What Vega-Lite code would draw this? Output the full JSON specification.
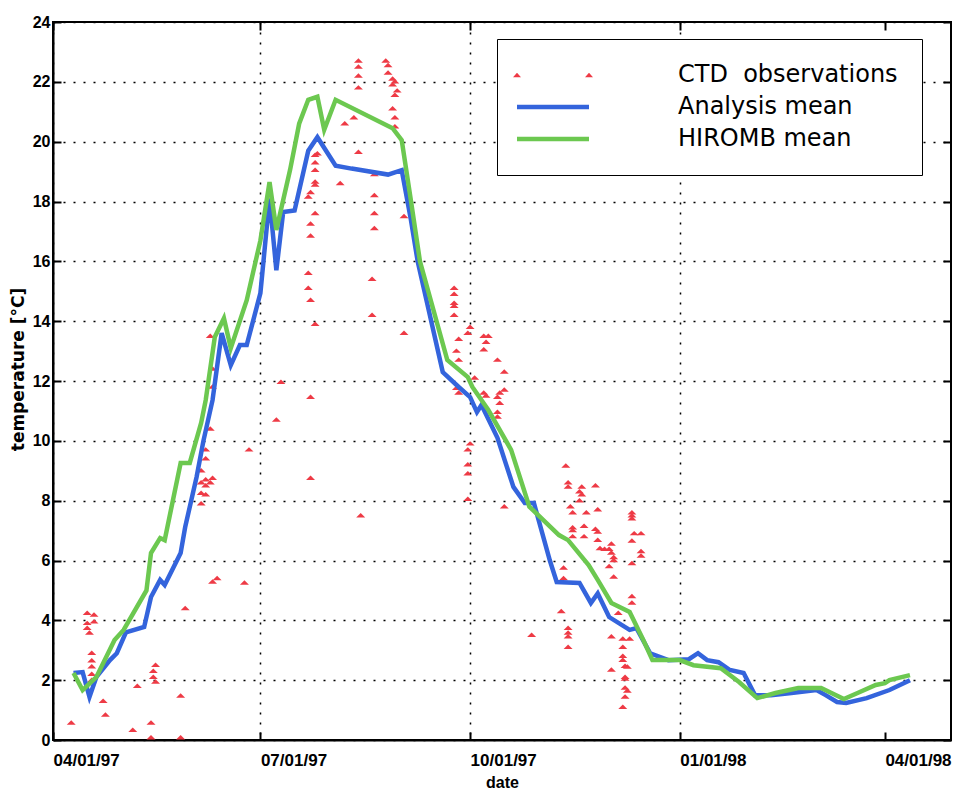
{
  "$schema": "https://vega.github.io/schema/vega-lite/v6.json",
  "width": 898,
  "height": 718,
  "autosize": {"type": "none"},
  "padding": {"left": 53, "top": 22, "right": 5, "bottom": 50},
  "background": "white",
  "config": {
    "view": {"stroke": "black", "strokeWidth": 2},
    "axis": {"labelColor": "black", "titleColor": "black", "tickColor": "black", "domainColor": "black"}
  },
  "datasets": {
    "keys": [
      {"series": "CTD observations"},
      {"series": "Analysis mean"},
      {"series": "HIROMB mean"}
    ],
    "ctd": [
      {"date": "1997-04-09", "temp": 0.57, "series": "CTD observations"},
      {"date": "1997-04-16", "temp": 4.24, "series": "CTD observations"},
      {"date": "1997-04-19", "temp": 4.18, "series": "CTD observations"},
      {"date": "1997-04-16", "temp": 3.9, "series": "CTD observations"},
      {"date": "1997-04-19", "temp": 3.95, "series": "CTD observations"},
      {"date": "1997-04-16", "temp": 3.74, "series": "CTD observations"},
      {"date": "1997-04-17", "temp": 3.58, "series": "CTD observations"},
      {"date": "1997-04-18", "temp": 2.9, "series": "CTD observations"},
      {"date": "1997-04-18", "temp": 2.65, "series": "CTD observations"},
      {"date": "1997-04-18", "temp": 2.45, "series": "CTD observations"},
      {"date": "1997-04-18", "temp": 2.2, "series": "CTD observations"},
      {"date": "1997-04-18", "temp": 2.0, "series": "CTD observations"},
      {"date": "1997-04-23", "temp": 1.3, "series": "CTD observations"},
      {"date": "1997-04-24", "temp": 0.84, "series": "CTD observations"},
      {"date": "1997-05-06", "temp": 0.33, "series": "CTD observations"},
      {"date": "1997-05-08", "temp": 1.8, "series": "CTD observations"},
      {"date": "1997-05-14", "temp": 0.57, "series": "CTD observations"},
      {"date": "1997-05-14", "temp": 0.08, "series": "CTD observations"},
      {"date": "1997-05-16", "temp": 2.5, "series": "CTD observations"},
      {"date": "1997-05-15", "temp": 2.3, "series": "CTD observations"},
      {"date": "1997-05-15", "temp": 2.1, "series": "CTD observations"},
      {"date": "1997-05-16", "temp": 1.94, "series": "CTD observations"},
      {"date": "1997-05-27", "temp": 1.47, "series": "CTD observations"},
      {"date": "1997-05-27", "temp": 0.08, "series": "CTD observations"},
      {"date": "1997-05-29", "temp": 4.4, "series": "CTD observations"},
      {"date": "1997-06-10", "temp": 5.28, "series": "CTD observations"},
      {"date": "1997-06-12", "temp": 5.4, "series": "CTD observations"},
      {"date": "1997-06-24", "temp": 5.25, "series": "CTD observations"},
      {"date": "1997-06-09", "temp": 10.4, "series": "CTD observations"},
      {"date": "1997-06-07", "temp": 9.7, "series": "CTD observations"},
      {"date": "1997-06-07", "temp": 9.4, "series": "CTD observations"},
      {"date": "1997-06-05", "temp": 9.0, "series": "CTD observations"},
      {"date": "1997-06-07", "temp": 8.7, "series": "CTD observations"},
      {"date": "1997-06-09", "temp": 8.6, "series": "CTD observations"},
      {"date": "1997-06-05", "temp": 8.6, "series": "CTD observations"},
      {"date": "1997-06-07", "temp": 8.5, "series": "CTD observations"},
      {"date": "1997-06-10", "temp": 8.75, "series": "CTD observations"},
      {"date": "1997-06-05", "temp": 8.25, "series": "CTD observations"},
      {"date": "1997-06-07", "temp": 8.2, "series": "CTD observations"},
      {"date": "1997-06-05", "temp": 7.9, "series": "CTD observations"},
      {"date": "1997-06-26", "temp": 9.7, "series": "CTD observations"},
      {"date": "1997-06-09", "temp": 13.5, "series": "CTD observations"},
      {"date": "1997-06-10", "temp": 12.4, "series": "CTD observations"},
      {"date": "1997-06-10", "temp": 11.8, "series": "CTD observations"},
      {"date": "1997-07-10", "temp": 11.96, "series": "CTD observations"},
      {"date": "1997-07-08", "temp": 10.7, "series": "CTD observations"},
      {"date": "1997-07-23", "temp": 11.46, "series": "CTD observations"},
      {"date": "1997-07-23", "temp": 8.75, "series": "CTD observations"},
      {"date": "1997-07-25", "temp": 19.55, "series": "CTD observations"},
      {"date": "1997-07-26", "temp": 19.6, "series": "CTD observations"},
      {"date": "1997-07-25", "temp": 19.3, "series": "CTD observations"},
      {"date": "1997-07-25", "temp": 19.05, "series": "CTD observations"},
      {"date": "1997-07-25", "temp": 18.65, "series": "CTD observations"},
      {"date": "1997-07-25", "temp": 18.55, "series": "CTD observations"},
      {"date": "1997-07-23", "temp": 18.3, "series": "CTD observations"},
      {"date": "1997-07-22", "temp": 18.15, "series": "CTD observations"},
      {"date": "1997-07-25", "temp": 17.6, "series": "CTD observations"},
      {"date": "1997-07-23", "temp": 17.25, "series": "CTD observations"},
      {"date": "1997-07-23", "temp": 16.85, "series": "CTD observations"},
      {"date": "1997-07-22", "temp": 15.6, "series": "CTD observations"},
      {"date": "1997-07-22", "temp": 15.1, "series": "CTD observations"},
      {"date": "1997-07-23", "temp": 14.7, "series": "CTD observations"},
      {"date": "1997-07-25", "temp": 13.9, "series": "CTD observations"},
      {"date": "1997-08-07", "temp": 20.6, "series": "CTD observations"},
      {"date": "1997-08-05", "temp": 18.6, "series": "CTD observations"},
      {"date": "1997-08-13", "temp": 22.7, "series": "CTD observations"},
      {"date": "1997-08-13", "temp": 22.5, "series": "CTD observations"},
      {"date": "1997-08-13", "temp": 22.2, "series": "CTD observations"},
      {"date": "1997-08-13", "temp": 21.8, "series": "CTD observations"},
      {"date": "1997-08-25", "temp": 22.7, "series": "CTD observations"},
      {"date": "1997-08-26", "temp": 22.55, "series": "CTD observations"},
      {"date": "1997-08-26", "temp": 22.3, "series": "CTD observations"},
      {"date": "1997-08-28", "temp": 22.1, "series": "CTD observations"},
      {"date": "1997-08-29", "temp": 22.0, "series": "CTD observations"},
      {"date": "1997-08-28", "temp": 21.9, "series": "CTD observations"},
      {"date": "1997-08-30", "temp": 21.7, "series": "CTD observations"},
      {"date": "1997-08-29", "temp": 21.55, "series": "CTD observations"},
      {"date": "1997-08-11", "temp": 20.8, "series": "CTD observations"},
      {"date": "1997-08-28", "temp": 21.1, "series": "CTD observations"},
      {"date": "1997-08-29", "temp": 20.8, "series": "CTD observations"},
      {"date": "1997-08-29", "temp": 20.5, "series": "CTD observations"},
      {"date": "1997-08-13", "temp": 19.65, "series": "CTD observations"},
      {"date": "1997-08-20", "temp": 18.9, "series": "CTD observations"},
      {"date": "1997-08-20", "temp": 18.2, "series": "CTD observations"},
      {"date": "1997-08-20", "temp": 17.6, "series": "CTD observations"},
      {"date": "1997-08-20", "temp": 17.1, "series": "CTD observations"},
      {"date": "1997-09-02", "temp": 17.5, "series": "CTD observations"},
      {"date": "1997-08-19", "temp": 15.4, "series": "CTD observations"},
      {"date": "1997-08-19", "temp": 14.2, "series": "CTD observations"},
      {"date": "1997-09-02", "temp": 13.6, "series": "CTD observations"},
      {"date": "1997-08-14", "temp": 7.5, "series": "CTD observations"},
      {"date": "1997-09-24", "temp": 15.1, "series": "CTD observations"},
      {"date": "1997-09-24", "temp": 14.9, "series": "CTD observations"},
      {"date": "1997-09-24", "temp": 14.6, "series": "CTD observations"},
      {"date": "1997-09-24", "temp": 14.5, "series": "CTD observations"},
      {"date": "1997-09-24", "temp": 14.2, "series": "CTD observations"},
      {"date": "1997-10-01", "temp": 13.8, "series": "CTD observations"},
      {"date": "1997-09-30", "temp": 13.6, "series": "CTD observations"},
      {"date": "1997-10-07", "temp": 13.5, "series": "CTD observations"},
      {"date": "1997-10-09", "temp": 13.5, "series": "CTD observations"},
      {"date": "1997-10-08", "temp": 13.3, "series": "CTD observations"},
      {"date": "1997-10-07", "temp": 13.05, "series": "CTD observations"},
      {"date": "1997-09-26", "temp": 13.4, "series": "CTD observations"},
      {"date": "1997-09-25", "temp": 13.0, "series": "CTD observations"},
      {"date": "1997-10-13", "temp": 12.7, "series": "CTD observations"},
      {"date": "1997-09-26", "temp": 12.7, "series": "CTD observations"},
      {"date": "1997-10-16", "temp": 12.3, "series": "CTD observations"},
      {"date": "1997-10-03", "temp": 12.1, "series": "CTD observations"},
      {"date": "1997-09-25", "temp": 11.76, "series": "CTD observations"},
      {"date": "1997-09-26", "temp": 11.6, "series": "CTD observations"},
      {"date": "1997-10-07", "temp": 11.6, "series": "CTD observations"},
      {"date": "1997-10-08", "temp": 11.5, "series": "CTD observations"},
      {"date": "1997-10-14", "temp": 11.6, "series": "CTD observations"},
      {"date": "1997-10-16", "temp": 11.7, "series": "CTD observations"},
      {"date": "1997-10-13", "temp": 11.46, "series": "CTD observations"},
      {"date": "1997-10-14", "temp": 11.26, "series": "CTD observations"},
      {"date": "1997-10-13", "temp": 10.96, "series": "CTD observations"},
      {"date": "1997-10-13", "temp": 10.8, "series": "CTD observations"},
      {"date": "1997-10-01", "temp": 9.9, "series": "CTD observations"},
      {"date": "1997-09-30", "temp": 9.7, "series": "CTD observations"},
      {"date": "1997-09-30", "temp": 9.2, "series": "CTD observations"},
      {"date": "1997-09-30", "temp": 8.9, "series": "CTD observations"},
      {"date": "1997-09-30", "temp": 8.05, "series": "CTD observations"},
      {"date": "1997-10-16", "temp": 7.8, "series": "CTD observations"},
      {"date": "1997-11-12", "temp": 9.16, "series": "CTD observations"},
      {"date": "1997-11-13", "temp": 8.6, "series": "CTD observations"},
      {"date": "1997-11-13", "temp": 8.46, "series": "CTD observations"},
      {"date": "1997-11-19", "temp": 8.46, "series": "CTD observations"},
      {"date": "1997-11-18", "temp": 8.3, "series": "CTD observations"},
      {"date": "1997-11-19", "temp": 8.2, "series": "CTD observations"},
      {"date": "1997-11-18", "temp": 8.0, "series": "CTD observations"},
      {"date": "1997-11-25", "temp": 8.5, "series": "CTD observations"},
      {"date": "1997-11-14", "temp": 7.8, "series": "CTD observations"},
      {"date": "1997-11-15", "temp": 7.6, "series": "CTD observations"},
      {"date": "1997-11-21", "temp": 7.6, "series": "CTD observations"},
      {"date": "1997-11-26", "temp": 7.7, "series": "CTD observations"},
      {"date": "1997-11-15", "temp": 7.1, "series": "CTD observations"},
      {"date": "1997-11-15", "temp": 7.0, "series": "CTD observations"},
      {"date": "1997-11-20", "temp": 7.15, "series": "CTD observations"},
      {"date": "1997-11-25", "temp": 7.05, "series": "CTD observations"},
      {"date": "1997-11-26", "temp": 6.95, "series": "CTD observations"},
      {"date": "1997-11-15", "temp": 6.8, "series": "CTD observations"},
      {"date": "1997-11-20", "temp": 6.8, "series": "CTD observations"},
      {"date": "1997-11-26", "temp": 6.68, "series": "CTD observations"},
      {"date": "1997-12-02", "temp": 6.55, "series": "CTD observations"},
      {"date": "1997-11-27", "temp": 6.4, "series": "CTD observations"},
      {"date": "1997-11-29", "temp": 6.38, "series": "CTD observations"},
      {"date": "1997-12-01", "temp": 6.38, "series": "CTD observations"},
      {"date": "1997-12-02", "temp": 6.25, "series": "CTD observations"},
      {"date": "1997-12-03", "temp": 6.1, "series": "CTD observations"},
      {"date": "1997-12-03", "temp": 6.0, "series": "CTD observations"},
      {"date": "1997-12-11", "temp": 7.6, "series": "CTD observations"},
      {"date": "1997-12-11", "temp": 7.5, "series": "CTD observations"},
      {"date": "1997-12-11", "temp": 7.4, "series": "CTD observations"},
      {"date": "1997-12-12", "temp": 6.9, "series": "CTD observations"},
      {"date": "1997-12-15", "temp": 6.9, "series": "CTD observations"},
      {"date": "1997-12-11", "temp": 6.65, "series": "CTD observations"},
      {"date": "1997-12-15", "temp": 6.3, "series": "CTD observations"},
      {"date": "1997-12-15", "temp": 6.15, "series": "CTD observations"},
      {"date": "1997-12-11", "temp": 5.9, "series": "CTD observations"},
      {"date": "1997-12-01", "temp": 5.8, "series": "CTD observations"},
      {"date": "1997-12-03", "temp": 5.45, "series": "CTD observations"},
      {"date": "1997-11-11", "temp": 5.75, "series": "CTD observations"},
      {"date": "1997-11-11", "temp": 5.4, "series": "CTD observations"},
      {"date": "1997-11-10", "temp": 4.3, "series": "CTD observations"},
      {"date": "1997-10-28", "temp": 3.5, "series": "CTD observations"},
      {"date": "1997-11-13", "temp": 3.74, "series": "CTD observations"},
      {"date": "1997-11-13", "temp": 3.58, "series": "CTD observations"},
      {"date": "1997-11-13", "temp": 3.45, "series": "CTD observations"},
      {"date": "1997-11-13", "temp": 3.1, "series": "CTD observations"},
      {"date": "1997-12-11", "temp": 4.8, "series": "CTD observations"},
      {"date": "1997-12-11", "temp": 4.58, "series": "CTD observations"},
      {"date": "1997-12-05", "temp": 4.24, "series": "CTD observations"},
      {"date": "1997-12-02", "temp": 3.45, "series": "CTD observations"},
      {"date": "1997-12-07", "temp": 3.38, "series": "CTD observations"},
      {"date": "1997-12-10", "temp": 3.38, "series": "CTD observations"},
      {"date": "1997-12-07", "temp": 3.1, "series": "CTD observations"},
      {"date": "1997-12-07", "temp": 2.8, "series": "CTD observations"},
      {"date": "1997-12-07", "temp": 2.67, "series": "CTD observations"},
      {"date": "1997-12-08", "temp": 2.47, "series": "CTD observations"},
      {"date": "1997-12-09", "temp": 2.44, "series": "CTD observations"},
      {"date": "1997-12-02", "temp": 2.34, "series": "CTD observations"},
      {"date": "1997-12-08", "temp": 2.1, "series": "CTD observations"},
      {"date": "1997-12-08", "temp": 2.04, "series": "CTD observations"},
      {"date": "1997-12-08", "temp": 1.74, "series": "CTD observations"},
      {"date": "1997-12-09", "temp": 1.64, "series": "CTD observations"},
      {"date": "1997-12-08", "temp": 1.44, "series": "CTD observations"},
      {"date": "1997-12-07", "temp": 1.1, "series": "CTD observations"}
    ],
    "means": [
      {"date": "1997-04-10", "temp": 2.24, "series": "Analysis mean"},
      {"date": "1997-04-14", "temp": 2.27, "series": "Analysis mean"},
      {"date": "1997-04-17", "temp": 1.44, "series": "Analysis mean"},
      {"date": "1997-04-20", "temp": 2.1, "series": "Analysis mean"},
      {"date": "1997-04-26", "temp": 2.67, "series": "Analysis mean"},
      {"date": "1997-04-29", "temp": 2.9, "series": "Analysis mean"},
      {"date": "1997-05-03", "temp": 3.6, "series": "Analysis mean"},
      {"date": "1997-05-11", "temp": 3.78, "series": "Analysis mean"},
      {"date": "1997-05-14", "temp": 4.78, "series": "Analysis mean"},
      {"date": "1997-05-18", "temp": 5.35, "series": "Analysis mean"},
      {"date": "1997-05-20", "temp": 5.18, "series": "Analysis mean"},
      {"date": "1997-05-27", "temp": 6.25, "series": "Analysis mean"},
      {"date": "1997-05-29", "temp": 7.12, "series": "Analysis mean"},
      {"date": "1997-06-03", "temp": 8.79, "series": "Analysis mean"},
      {"date": "1997-06-06", "temp": 10.0, "series": "Analysis mean"},
      {"date": "1997-06-10", "temp": 11.36, "series": "Analysis mean"},
      {"date": "1997-06-14", "temp": 13.6, "series": "Analysis mean"},
      {"date": "1997-06-18", "temp": 12.53, "series": "Analysis mean"},
      {"date": "1997-06-22", "temp": 13.2, "series": "Analysis mean"},
      {"date": "1997-06-25", "temp": 13.2, "series": "Analysis mean"},
      {"date": "1997-07-01", "temp": 14.94, "series": "Analysis mean"},
      {"date": "1997-07-05", "temp": 18.1, "series": "Analysis mean"},
      {"date": "1997-07-08", "temp": 15.7, "series": "Analysis mean"},
      {"date": "1997-07-11", "temp": 17.65, "series": "Analysis mean"},
      {"date": "1997-07-16", "temp": 17.7, "series": "Analysis mean"},
      {"date": "1997-07-22", "temp": 19.7, "series": "Analysis mean"},
      {"date": "1997-07-26", "temp": 20.15, "series": "Analysis mean"},
      {"date": "1997-08-03", "temp": 19.2, "series": "Analysis mean"},
      {"date": "1997-08-10", "temp": 19.1, "series": "Analysis mean"},
      {"date": "1997-08-26", "temp": 18.9, "series": "Analysis mean"},
      {"date": "1997-09-01", "temp": 19.05, "series": "Analysis mean"},
      {"date": "1997-09-05", "temp": 17.4, "series": "Analysis mean"},
      {"date": "1997-09-08", "temp": 16.0, "series": "Analysis mean"},
      {"date": "1997-09-19", "temp": 12.3, "series": "Analysis mean"},
      {"date": "1997-09-26", "temp": 11.8, "series": "Analysis mean"},
      {"date": "1997-10-01", "temp": 11.46, "series": "Analysis mean"},
      {"date": "1997-10-04", "temp": 10.96, "series": "Analysis mean"},
      {"date": "1997-10-06", "temp": 11.2, "series": "Analysis mean"},
      {"date": "1997-10-13", "temp": 10.1, "series": "Analysis mean"},
      {"date": "1997-10-20", "temp": 8.46, "series": "Analysis mean"},
      {"date": "1997-10-25", "temp": 7.92, "series": "Analysis mean"},
      {"date": "1997-10-29", "temp": 7.92, "series": "Analysis mean"},
      {"date": "1997-11-05", "temp": 6.0, "series": "Analysis mean"},
      {"date": "1997-11-08", "temp": 5.28, "series": "Analysis mean"},
      {"date": "1997-11-18", "temp": 5.25, "series": "Analysis mean"},
      {"date": "1997-11-23", "temp": 4.58, "series": "Analysis mean"},
      {"date": "1997-11-26", "temp": 4.9, "series": "Analysis mean"},
      {"date": "1997-12-01", "temp": 4.11, "series": "Analysis mean"},
      {"date": "1997-12-10", "temp": 3.68, "series": "Analysis mean"},
      {"date": "1997-12-13", "temp": 3.74, "series": "Analysis mean"},
      {"date": "1997-12-19", "temp": 2.9, "series": "Analysis mean"},
      {"date": "1997-12-27", "temp": 2.67, "series": "Analysis mean"},
      {"date": "1998-01-05", "temp": 2.7, "series": "Analysis mean"},
      {"date": "1998-01-09", "temp": 2.9, "series": "Analysis mean"},
      {"date": "1998-01-13", "temp": 2.67, "series": "Analysis mean"},
      {"date": "1998-01-18", "temp": 2.6, "series": "Analysis mean"},
      {"date": "1998-01-23", "temp": 2.34, "series": "Analysis mean"},
      {"date": "1998-01-29", "temp": 2.24, "series": "Analysis mean"},
      {"date": "1998-02-03", "temp": 1.5, "series": "Analysis mean"},
      {"date": "1998-02-10", "temp": 1.5, "series": "Analysis mean"},
      {"date": "1998-02-19", "temp": 1.57, "series": "Analysis mean"},
      {"date": "1998-03-02", "temp": 1.67, "series": "Analysis mean"},
      {"date": "1998-03-06", "temp": 1.5, "series": "Analysis mean"},
      {"date": "1998-03-11", "temp": 1.27, "series": "Analysis mean"},
      {"date": "1998-03-15", "temp": 1.24, "series": "Analysis mean"},
      {"date": "1998-03-24", "temp": 1.4, "series": "Analysis mean"},
      {"date": "1998-04-03", "temp": 1.67, "series": "Analysis mean"},
      {"date": "1998-04-12", "temp": 2.0, "series": "Analysis mean"},
      {"date": "1997-04-10", "temp": 2.24, "series": "HIROMB mean"},
      {"date": "1997-04-14", "temp": 1.67, "series": "HIROMB mean"},
      {"date": "1997-04-20", "temp": 2.1, "series": "HIROMB mean"},
      {"date": "1997-04-28", "temp": 3.34, "series": "HIROMB mean"},
      {"date": "1997-05-02", "temp": 3.68, "series": "HIROMB mean"},
      {"date": "1997-05-12", "temp": 5.0, "series": "HIROMB mean"},
      {"date": "1997-05-14", "temp": 6.25, "series": "HIROMB mean"},
      {"date": "1997-05-18", "temp": 6.75, "series": "HIROMB mean"},
      {"date": "1997-05-20", "temp": 6.68, "series": "HIROMB mean"},
      {"date": "1997-05-27", "temp": 9.26, "series": "HIROMB mean"},
      {"date": "1997-05-31", "temp": 9.26, "series": "HIROMB mean"},
      {"date": "1997-06-05", "temp": 10.6, "series": "HIROMB mean"},
      {"date": "1997-06-07", "temp": 11.36, "series": "HIROMB mean"},
      {"date": "1997-06-11", "temp": 13.47, "series": "HIROMB mean"},
      {"date": "1997-06-15", "temp": 14.1, "series": "HIROMB mean"},
      {"date": "1997-06-18", "temp": 13.1, "series": "HIROMB mean"},
      {"date": "1997-06-25", "temp": 14.7, "series": "HIROMB mean"},
      {"date": "1997-07-01", "temp": 16.7, "series": "HIROMB mean"},
      {"date": "1997-07-05", "temp": 18.65, "series": "HIROMB mean"},
      {"date": "1997-07-08", "temp": 17.05, "series": "HIROMB mean"},
      {"date": "1997-07-14", "temp": 19.05, "series": "HIROMB mean"},
      {"date": "1997-07-18", "temp": 20.6, "series": "HIROMB mean"},
      {"date": "1997-07-22", "temp": 21.4, "series": "HIROMB mean"},
      {"date": "1997-07-26", "temp": 21.5, "series": "HIROMB mean"},
      {"date": "1997-07-29", "temp": 20.4, "series": "HIROMB mean"},
      {"date": "1997-08-03", "temp": 21.4, "series": "HIROMB mean"},
      {"date": "1997-08-28", "temp": 20.45, "series": "HIROMB mean"},
      {"date": "1997-09-01", "temp": 20.05, "series": "HIROMB mean"},
      {"date": "1997-09-05", "temp": 18.05, "series": "HIROMB mean"},
      {"date": "1997-09-09", "temp": 16.0, "series": "HIROMB mean"},
      {"date": "1997-09-21", "temp": 12.7, "series": "HIROMB mean"},
      {"date": "1997-09-30", "temp": 12.13, "series": "HIROMB mean"},
      {"date": "1997-10-02", "temp": 11.8, "series": "HIROMB mean"},
      {"date": "1997-10-09", "temp": 11.03, "series": "HIROMB mean"},
      {"date": "1997-10-19", "temp": 9.7, "series": "HIROMB mean"},
      {"date": "1997-10-27", "temp": 7.8, "series": "HIROMB mean"},
      {"date": "1997-11-09", "temp": 6.85, "series": "HIROMB mean"},
      {"date": "1997-11-13", "temp": 6.68, "series": "HIROMB mean"},
      {"date": "1997-11-22", "temp": 5.85, "series": "HIROMB mean"},
      {"date": "1997-11-26", "temp": 5.35, "series": "HIROMB mean"},
      {"date": "1997-12-02", "temp": 4.58, "series": "HIROMB mean"},
      {"date": "1997-12-10", "temp": 4.28, "series": "HIROMB mean"},
      {"date": "1997-12-16", "temp": 3.34, "series": "HIROMB mean"},
      {"date": "1997-12-20", "temp": 2.67, "series": "HIROMB mean"},
      {"date": "1998-01-01", "temp": 2.67, "series": "HIROMB mean"},
      {"date": "1998-01-07", "temp": 2.5, "series": "HIROMB mean"},
      {"date": "1998-01-19", "temp": 2.4, "series": "HIROMB mean"},
      {"date": "1998-01-27", "temp": 1.94, "series": "HIROMB mean"},
      {"date": "1998-02-04", "temp": 1.4, "series": "HIROMB mean"},
      {"date": "1998-02-12", "temp": 1.57, "series": "HIROMB mean"},
      {"date": "1998-02-22", "temp": 1.74, "series": "HIROMB mean"},
      {"date": "1998-03-04", "temp": 1.74, "series": "HIROMB mean"},
      {"date": "1998-03-14", "temp": 1.37, "series": "HIROMB mean"},
      {"date": "1998-03-20", "temp": 1.57, "series": "HIROMB mean"},
      {"date": "1998-03-28", "temp": 1.84, "series": "HIROMB mean"},
      {"date": "1998-04-01", "temp": 1.9, "series": "HIROMB mean"},
      {"date": "1998-04-03", "temp": 2.0, "series": "HIROMB mean"},
      {"date": "1998-04-12", "temp": 2.17, "series": "HIROMB mean"}
    ]
  },
  "layer": [
    {
      "data": {"name": "ctd"},
      "mark": {"type": "point", "shape": "M-1,0.4L0,-0.6L1,0.4Z", "filled": true, "size": 80, "opacity": 1},
      "encoding": {
        "x": {
          "field": "date", "type": "temporal",
          "scale": {"type": "utc", "domain": [{"year": 1997, "month": 4, "date": 1, "utc": true}, {"year": 1998, "month": 4, "date": 30, "utc": true}]},
          "axis": {
            "orient": "bottom",
            "values": [
              {"year": 1997, "month": 4, "date": 1, "utc": true},
              {"year": 1997, "month": 7, "date": 1, "utc": true},
              {"year": 1997, "month": 10, "date": 1, "utc": true},
              {"year": 1998, "month": 1, "date": 1, "utc": true},
              {"year": 1998, "month": 4, "date": 1, "utc": true}
            ],
            "labelExpr": "utcFormat(datum.value, '%m/%d/%y')",
            "title": "date", "titleFont": "Liberation Sans", "titleFontSize": 16, "titleFontWeight": "bold", "titlePadding": 6,
            "labelFont": "Liberation Sans", "labelFontSize": 17, "labelFontWeight": "bold",
            "labelAlign": "left", "labelDx": -5, "labelPadding": 20, "labelOverlap": false, "labelFlush": false, "labelBound": false,
            "tickSize": -8, "tickWidth": 2,
            "domainWidth": 2,
            "grid": true, "gridColor": "black", "gridDash": [2, 8], "gridWidth": 1.5,
            "gridOpacity": {"condition": {"test": "datum.value > utc(1998, 2, 1)", "value": 0}, "value": 1}
          }
        },
        "y": {
          "field": "temp", "type": "quantitative",
          "scale": {"domain": [0, 24], "nice": false, "zero": true},
          "axis": {
            "orient": "left",
            "values": [0, 2, 4, 6, 8, 10, 12, 14, 16, 18, 20, 22, 24],
            "title": "temperature [°C]", "titleFont": "DejaVu Sans", "titleFontSize": 17, "titleFontWeight": "bold", "titlePadding": 5, "titleY": 347,
            "labelFont": "Liberation Sans", "labelFontSize": 16, "labelFontWeight": "bold", "labelPadding": 11,
            "tickSize": -8, "tickWidth": 2, "domainWidth": 2,
            "grid": true, "gridColor": "black", "gridDash": [2, 8], "gridWidth": 1.5
          }
        },
        "color": {
          "field": "series", "type": "nominal",
          "scale": {"domain": ["CTD observations", "Analysis mean", "HIROMB mean"], "range": ["#ee3a45", "#3464dc", "#6cc850"]}
        }
      }
    },
    {
      "data": {"name": "means"},
      "mark": {"type": "line", "strokeWidth": 4.5},
      "encoding": {
        "x": {
          "field": "date", "type": "temporal",
          "axis": {
            "orient": "top", "title": null, "labels": false, "domain": false, "grid": false,
            "values": [
              {"year": 1997, "month": 4, "date": 1, "utc": true},
              {"year": 1997, "month": 7, "date": 1, "utc": true},
              {"year": 1997, "month": 10, "date": 1, "utc": true},
              {"year": 1998, "month": 1, "date": 1, "utc": true},
              {"year": 1998, "month": 4, "date": 1, "utc": true}
            ],
            "tickSize": -8, "tickWidth": 2
          }
        },
        "y": {
          "field": "temp", "type": "quantitative",
          "axis": {
            "orient": "right", "title": null, "labels": false, "domain": false, "grid": false,
            "values": [0, 2, 4, 6, 8, 10, 12, 14, 16, 18, 20, 22, 24],
            "tickSize": -8, "tickWidth": 2
          }
        },
        "color": {"field": "series", "type": "nominal"}
      }
    },
    {
      "data": {"name": "keys"},
      "mark": {"type": "point", "filled": true, "opacity": 0, "size": 64},
      "encoding": {
        "color": {
          "field": "series", "type": "nominal",
          "legend": {
            "orient": "none", "legendX": 444, "legendY": 17, "title": null,
            "labelFont": "DejaVu Sans", "labelFontSize": 24, "labelColor": "black", "labelLimit": 500,
            "labelExpr": "datum.value == 'CTD observations' ? 'CTD\u00a0 observations' : datum.value",
            "symbolSize": 64, "symbolStrokeWidth": 0, "symbolOpacity": 1, "symbolOffset": 20, "labelOffset": 113,
            "padding": 24, "rowPadding": 8,
            "strokeColor": "black", "fillColor": "white"
          }
        },
        "shape": {
          "field": "series", "type": "nominal",
          "scale": {
            "domain": ["CTD observations", "Analysis mean", "HIROMB mean"],
            "range": ["M-10,0.55L-9,-0.55L-8,0.55Z M8,0.55L9,-0.55L10,0.55Z", "M-9,-0.55H9V0.55H-9Z", "M-9,-0.55H9V0.55H-9Z"]
          },
          "legend": {
            "orient": "none", "legendX": 444, "legendY": 17, "title": null,
            "labelFont": "DejaVu Sans", "labelFontSize": 24, "labelColor": "black", "labelLimit": 500,
            "labelExpr": "datum.value == 'CTD observations' ? 'CTD\u00a0 observations' : datum.value",
            "symbolSize": 64, "symbolStrokeWidth": 0, "symbolOpacity": 1, "symbolOffset": 20, "labelOffset": 113,
            "padding": 24, "rowPadding": 8,
            "strokeColor": "black", "fillColor": "white"
          }
        }
      }
    }
  ],
  "resolve": {"axis": {"x": "independent", "y": "independent"}}
}
